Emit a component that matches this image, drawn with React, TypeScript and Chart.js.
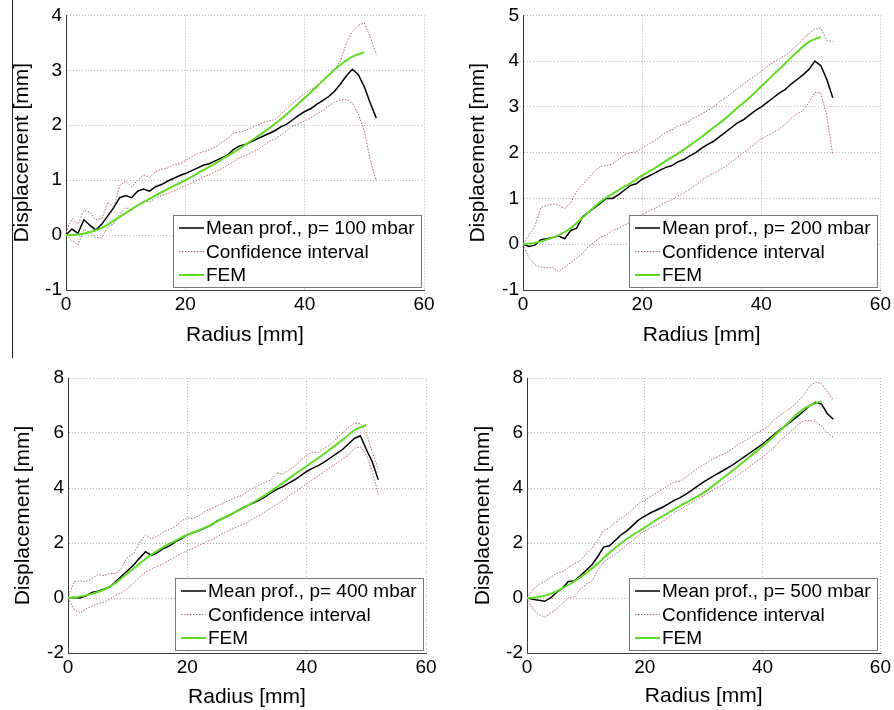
import React, { useEffect, useRef } from 'react';
import { Chart, registerables } from 'chart.js';

Chart.register(...registerables);

// ---------- data ----------
const RADIUS_MM = [0, 1, 2, 3, 4, 5, 6, 7, 8, 9, 10, 11, 12, 13, 14, 15, 16, 17, 18, 19, 20, 21, 22, 23, 24, 25, 26, 27, 28, 29, 30, 31, 32, 33, 34, 35, 36, 37, 38, 39, 40, 41, 42, 43, 44, 45, 46, 47, 48, 49, 50, 51, 52];
const FEM_RADIUS_MM = [0, 2, 4, 6, 8, 10, 12, 14, 16, 18, 20, 22, 24, 26, 28, 30, 32, 34, 36, 38, 40, 42, 44, 46, 48, 50];
const X_TICKS = { min: 0, max: 60, step: 20 };

// p = 100 mbar
const P100_MEAN = [0.0, 0.11, 0.03, 0.28, 0.18, 0.09, 0.2, 0.35, 0.5, 0.68, 0.72, 0.68, 0.8, 0.84, 0.8, 0.88, 0.92, 0.98, 1.03, 1.08, 1.12, 1.17, 1.22, 1.27, 1.3, 1.35, 1.4, 1.45, 1.55, 1.62, 1.65, 1.7, 1.75, 1.8, 1.85, 1.9, 1.97, 2.02, 2.1, 2.18, 2.25, 2.3, 2.38, 2.45, 2.52, 2.62, 2.75, 2.9, 3.02, 2.92, 2.7, 2.4, 2.13];
const P100_UPPER = [0.05, 0.3, 0.2, 0.45, 0.42, 0.28, 0.3, 0.6, 0.5, 0.9, 0.98, 0.88, 1.0, 1.1, 1.05, 1.15, 1.2, 1.22, 1.28, 1.3, 1.35, 1.42, 1.48, 1.52, 1.55, 1.6, 1.68, 1.75, 1.85, 1.88, 1.9, 1.95, 2.0, 2.05, 2.08, 2.1, 2.2, 2.3, 2.4, 2.5, 2.58, 2.65, 2.72, 2.8, 2.9, 3.02, 3.17, 3.5, 3.71, 3.82, 3.86, 3.6, 3.29];
const P100_LOWER = [0.0, -0.1, -0.18, 0.1, 0.05, -0.05, -0.05, 0.15, 0.2, 0.38, 0.5, 0.45, 0.55, 0.62, 0.6, 0.68, 0.72, 0.75, 0.8, 0.85, 0.9, 0.95, 1.0, 1.05, 1.1, 1.15, 1.2, 1.27, 1.33, 1.4, 1.45, 1.5, 1.55, 1.62, 1.7, 1.75, 1.82, 1.9, 1.98, 2.03, 2.08, 2.13, 2.2, 2.27, 2.35, 2.42, 2.46, 2.47, 2.4, 2.2, 1.9, 1.36, 0.98];
const P100_FEM = [0, 0.01, 0.05, 0.13, 0.26, 0.4, 0.54, 0.66, 0.78, 0.89, 1.0, 1.12, 1.24, 1.37, 1.5, 1.64, 1.79, 1.94, 2.11, 2.3, 2.5, 2.7, 2.91, 3.1, 3.25, 3.33];

// p = 200 mbar
const P200_MEAN = [0.0, -0.05, -0.02, 0.1, 0.12, 0.15, 0.18, 0.12, 0.3, 0.35, 0.6, 0.7, 0.8, 0.9, 1.0, 1.0, 1.08, 1.18, 1.28, 1.32, 1.42, 1.48, 1.55, 1.62, 1.68, 1.72, 1.8, 1.85, 1.93, 2.0, 2.1, 2.18, 2.25, 2.35, 2.45, 2.55, 2.65, 2.72, 2.82, 2.92, 3.0, 3.1, 3.2, 3.3, 3.38, 3.5, 3.6, 3.7, 3.82, 4.0, 3.9, 3.6, 3.2];
const P200_UPPER = [0.0, 0.2, 0.4, 0.8, 0.85, 0.88, 0.85, 0.78, 0.9, 1.15, 1.3, 1.45, 1.6, 1.7, 1.72, 1.75, 1.85, 1.95, 2.0, 2.02, 2.1, 2.18, 2.25, 2.35, 2.45, 2.5, 2.58, 2.62, 2.7, 2.78, 2.85, 2.92, 3.0, 3.12, 3.2, 3.3, 3.4, 3.5, 3.6, 3.68, 3.78, 3.88, 3.98, 4.05, 4.12, 4.22, 4.35, 4.48, 4.6, 4.7, 4.72, 4.45, 4.43];
const P200_LOWER = [0.0, -0.3, -0.45, -0.5, -0.52, -0.5, -0.6, -0.5, -0.4, -0.3, -0.2, -0.05, 0.05, 0.15, 0.2, 0.3, 0.35, 0.42, 0.48, 0.55, 0.65, 0.72, 0.78, 0.85, 0.92, 0.98, 1.05, 1.12, 1.2, 1.3, 1.4, 1.48, 1.55, 1.62, 1.7, 1.8, 1.9, 2.0, 2.1, 2.2, 2.3, 2.37, 2.44, 2.52, 2.62, 2.75, 2.85, 2.92, 3.1, 3.32, 3.3, 2.8, 1.95];
const P200_FEM = [0, 0.03, 0.1, 0.2, 0.35, 0.58, 0.82, 1.02, 1.18, 1.33, 1.5, 1.65, 1.82, 1.98, 2.16, 2.35, 2.55, 2.75, 2.98, 3.2, 3.45, 3.7, 3.95, 4.2, 4.42, 4.53];

// p = 400 mbar
const P400_MEAN = [0, 0.02, 0.0, 0.08, 0.2, 0.25, 0.32, 0.4, 0.6, 0.8, 1.0, 1.2, 1.45, 1.68, 1.55, 1.65, 1.8, 1.9, 2.05, 2.15, 2.3, 2.38, 2.45, 2.55, 2.65, 2.8, 2.9, 3.0, 3.12, 3.25, 3.35, 3.45, 3.55, 3.68, 3.82, 3.95, 4.05, 4.18, 4.3, 4.45, 4.6, 4.72, 4.82, 4.95, 5.1, 5.25, 5.4, 5.6, 5.8, 5.9, 5.4, 4.95, 4.3];
const P400_UPPER = [0, 0.6, 0.62, 0.6, 0.7, 0.85, 0.82, 0.9, 0.88, 1.1, 1.5, 1.6, 2.0, 2.3, 2.15, 2.25, 2.4, 2.5, 2.6, 2.8, 2.92, 2.88, 3.0, 3.15, 3.25, 3.35, 3.45, 3.55, 3.65, 3.72, 3.85, 4.0, 4.1, 4.2, 4.3, 4.55, 4.5, 4.65, 4.8, 5.0, 5.2, 5.3, 5.3, 5.45, 5.6, 5.8, 6.0, 6.2, 6.35, 6.35, 6.0, 5.3, 4.7];
const P400_LOWER = [0, -0.4, -0.55, -0.4, -0.3, -0.2, -0.15, -0.05, 0.1, 0.2, 0.35, 0.55, 0.75, 0.95, 1.05, 1.15, 1.25, 1.38, 1.5, 1.62, 1.72, 1.82, 1.92, 2.02, 2.12, 2.22, 2.35, 2.45, 2.55, 2.65, 2.75, 2.87, 3.0, 3.13, 3.27, 3.4, 3.55, 3.7, 3.85, 4.0, 4.15, 4.3, 4.45, 4.6, 4.75, 4.9, 5.05, 5.2, 5.45, 5.5, 5.2, 4.6, 3.75];
const P400_FEM = [0, 0.05, 0.15, 0.3, 0.55, 0.9, 1.25, 1.58, 1.85, 2.08, 2.3, 2.47, 2.67, 2.9, 3.12, 3.35, 3.6, 3.88, 4.18, 4.5, 4.8, 5.1, 5.42, 5.75, 6.1, 6.3];

// p = 500 mbar
const P500_MEAN = [0, -0.05, -0.08, -0.12, 0.0, 0.2, 0.35, 0.6, 0.62, 0.8, 1.0, 1.2, 1.5, 1.85, 1.9, 2.1, 2.3, 2.45, 2.65, 2.85, 2.98, 3.1, 3.2, 3.3, 3.42, 3.55, 3.65, 3.78, 3.92, 4.08, 4.22, 4.35, 4.48, 4.6, 4.72, 4.85, 5.0, 5.15, 5.3, 5.45, 5.6, 5.78, 5.95, 6.12, 6.28, 6.45, 6.62, 6.8, 7.0, 7.12, 7.05, 6.7, 6.5];
const P500_UPPER = [0, 0.3, 0.5, 0.6, 0.75, 0.9, 0.95, 1.1, 1.25, 1.35, 1.6, 1.8, 2.1, 2.45, 2.55, 2.75, 2.9, 3.05, 3.25, 3.45, 3.55, 3.7, 3.82, 3.95, 4.1, 4.22, 4.25, 4.4, 4.55, 4.72, 4.85, 4.98, 5.1, 5.2, 5.3, 5.45, 5.6, 5.72, 5.85, 6.0, 6.1, 6.25, 6.5, 6.65, 6.8, 6.95, 7.15, 7.4, 7.7, 7.85, 7.8, 7.5, 7.2];
const P500_LOWER = [0, -0.4, -0.6, -0.7, -0.55, -0.4, -0.2, 0.0, 0.05, 0.3, 0.5, 0.6, 1.0, 1.3, 1.45, 1.6, 1.75, 1.95, 2.1, 2.3, 2.45, 2.55, 2.65, 2.78, 2.92, 3.1, 3.22, 3.35, 3.48, 3.6, 3.72, 3.85, 3.98, 4.1, 4.22, 4.35, 4.5, 4.65, 4.82, 4.98, 5.12, 5.3, 5.5, 5.72, 5.92, 6.1, 6.3, 6.45, 6.45, 6.42, 6.25, 6.0, 5.85];
const P500_FEM = [0, 0.04, 0.15, 0.35, 0.6, 0.9, 1.25, 1.65, 2.0, 2.3, 2.56, 2.85, 3.1, 3.35, 3.58, 3.83, 4.15, 4.48, 4.82, 5.17, 5.52, 5.9, 6.3, 6.72, 7.0, 7.15];

const PRESSURES = [100, 200, 400, 500];
const Y_RANGES = [
  { min: -1, max: 4, step: 1 },
  { min: -1, max: 5, step: 1 },
  { min: -2, max: 8, step: 2 },
  { min: -2, max: 8, step: 2 },
];

const X_TITLE = 'Radius [mm]';
const Y_TITLE = 'Displacement [mm]';
const CI_LABEL = 'Confidence interval';
const FEM_LABEL = 'FEM';

// ---------- styles ----------
const FONT = '"Liberation Sans", Arial, Helvetica, sans-serif';
const MEAN_COLOR = '#000000';
const CI_COLOR = '#b06a6a';
const FEM_COLOR = '#5fdc24';
const GRID_COLOR = '#b8b8b8';
const AXIS_COLOR = '#3a3a3a';
const TEXT_COLOR = '#000000';

type Layout = {
  left: number; top: number; w: number; h: number;
  axisW: number; axisH: number; padTop: number; padRight: number;
  yTitlePad: number; xTitlePad: number;
};

const LAYOUTS: Layout[] = [
  { left: 0, top: 0, w: 447, h: 355, axisW: 66, axisH: 65, padTop: 14, padRight: 23, yTitlePad: 10, xTitlePad: 7 },
  { left: 447, top: 0, w: 447, h: 355, axisW: 76, axisH: 65, padTop: 14, padRight: 13, yTitlePad: 19, xTitlePad: 7 },
  { left: 0, top: 355, w: 447, h: 355, axisW: 68, axisH: 57, padTop: 23, padRight: 21, yTitlePad: 10.5, xTitlePad: 0 },
  { left: 447, top: 355, w: 447, h: 355, axisW: 80, axisH: 57, padTop: 23, padRight: 9, yTitlePad: 24, xTitlePad: 1.5 },
];

const SERIES = [
  { mean: P100_MEAN, upper: P100_UPPER, lower: P100_LOWER, fem: P100_FEM },
  { mean: P200_MEAN, upper: P200_UPPER, lower: P200_LOWER, fem: P200_FEM },
  { mean: P400_MEAN, upper: P400_UPPER, lower: P400_LOWER, fem: P400_FEM },
  { mean: P500_MEAN, upper: P500_UPPER, lower: P500_LOWER, fem: P500_FEM },
];

const boxLegend = {
  id: 'boxLegend',
  afterDraw(chart: any) {
    const { ctx, chartArea } = chart;
    const ds = chart.data.datasets;
    const items = [ds[0], ds[1], ds[3]];
    ctx.save();
    ctx.font = `19px ${FONT}`;
    const tw = Math.max(...items.map((d: any) => ctx.measureText(d.label).width));
    const w = Math.round(33 + tw + 6);
    const h = 72;
    const x = Math.round(chartArea.right - 3 - w);
    const y = Math.round(chartArea.bottom - 3 - h);
    ctx.fillStyle = '#ffffff';
    ctx.fillRect(x, y, w, h);
    ctx.strokeStyle = '#7a7a7a';
    ctx.lineWidth = 1;
    ctx.strokeRect(x + 0.5, y + 0.5, w, h);
    items.forEach((d: any, i: number) => {
      const cy = y + 13 + i * 23.5;
      ctx.strokeStyle = d.borderColor;
      ctx.lineWidth = d.borderWidth;
      ctx.setLineDash(d.borderDash || []);
      ctx.beginPath();
      ctx.moveTo(x + 6, cy);
      ctx.lineTo(x + 31, cy);
      ctx.stroke();
      ctx.setLineDash([]);
      ctx.fillStyle = TEXT_COLOR;
      ctx.textBaseline = 'middle';
      ctx.textAlign = 'left';
      ctx.fillText(d.label, x + 33, cy + 1);
    });
    ctx.restore();
  },
};

function pts(xs: number[], ys: number[]) {
  return xs.map((x, i) => ({ x, y: ys[i] }));
}

function Panel({ idx }: { idx: number }) {
  const ref = useRef<HTMLCanvasElement>(null);
  const L = LAYOUTS[idx];
  useEffect(() => {
    const s = SERIES[idx];
    const yr = Y_RANGES[idx];
    const common = { pointRadius: 0, pointHoverRadius: 0, fill: false, tension: 0 };
    const chart = new Chart(ref.current as HTMLCanvasElement, {
      type: 'line',
      data: {
        datasets: [
          { ...common, label: `Mean prof., p= ${PRESSURES[idx]} mbar`, data: pts(RADIUS_MM, s.mean), borderColor: MEAN_COLOR, borderWidth: 1.5, order: 1 },
          { ...common, label: CI_LABEL, data: pts(RADIUS_MM, s.upper), borderColor: CI_COLOR, borderWidth: 1, borderDash: [1.5, 1.5], order: 2 },
          { ...common, label: CI_LABEL, data: pts(RADIUS_MM, s.lower), borderColor: CI_COLOR, borderWidth: 1, borderDash: [1.5, 1.5], order: 2 },
          { ...common, label: FEM_LABEL, data: pts(FEM_RADIUS_MM, s.fem), borderColor: FEM_COLOR, borderWidth: 2, cubicInterpolationMode: 'monotone', order: 0 },
        ] as any,
      },
      options: {
        animation: false,
        responsive: false,
        events: [],
        layout: { padding: { top: L.padTop, right: L.padRight, left: 0, bottom: 0 } },
        plugins: { legend: { display: false }, tooltip: { enabled: false } },
        scales: {
          x: {
            type: 'linear',
            min: X_TICKS.min,
            max: X_TICKS.max,
            ticks: { stepSize: X_TICKS.step, font: { family: FONT, size: 19 }, color: TEXT_COLOR, padding: 3, maxRotation: 0 },
            grid: { color: GRID_COLOR, lineWidth: 1, drawTicks: false },
            border: { display: true, color: AXIS_COLOR, width: 1, dash: [1, 2] },
            title: { display: true, text: X_TITLE, font: { family: FONT, size: 21 }, color: TEXT_COLOR, padding: { top: 0, bottom: L.xTitlePad } },
            afterFit: (sc: any) => { sc.height = L.axisH; },
          },
          y: {
            type: 'linear',
            min: yr.min,
            max: yr.max,
            ticks: { stepSize: yr.step, font: { family: FONT, size: 19 }, color: TEXT_COLOR, padding: 4 },
            grid: { color: GRID_COLOR, lineWidth: 1, drawTicks: false },
            border: { display: true, color: AXIS_COLOR, width: 1, dash: [1, 2] },
            title: { display: true, text: Y_TITLE, font: { family: FONT, size: 21 }, color: TEXT_COLOR, padding: { top: L.yTitlePad, bottom: 0 } },
            afterFit: (sc: any) => { sc.width = L.axisW; },
          },
        },
      } as any,
      plugins: [boxLegend],
    });
    return () => chart.destroy();
  }, [idx]);
  return (
    <div style={{ position: 'absolute', left: L.left, top: L.top, width: L.w, height: L.h }}>
      <canvas ref={ref} width={L.w} height={L.h} style={{ display: 'block' }} />
    </div>
  );
}

export default function App() {
  return (
    <div style={{ position: 'absolute', left: 0, top: 0, width: 894, height: 710, background: '#ffffff', overflow: 'hidden' }}>
      <div style={{ position: 'absolute', left: 12, top: 0, width: 1, height: 358, background: '#222' }} />
      {[0, 1, 2, 3].map((i) => (
        <Panel key={i} idx={i} />
      ))}
    </div>
  );
}
